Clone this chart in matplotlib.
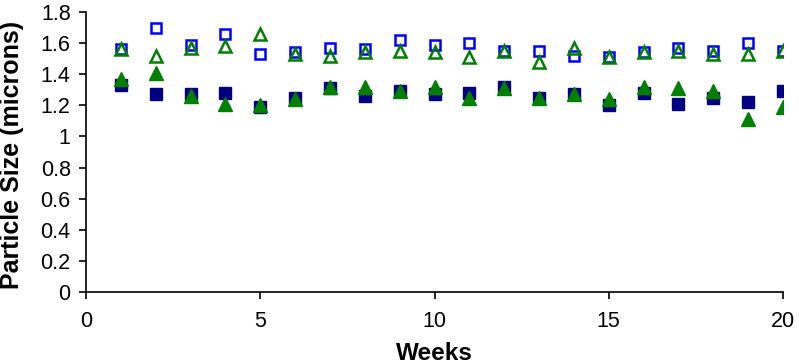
import matplotlib
matplotlib.use("Agg")
import matplotlib.pyplot as plt

plt.rcParams['font.family'] = ['Liberation Sans', 'DejaVu Sans']

weeks = list(range(1, 21))

# open squares
sq_open = [1.56, 1.70, 1.59, 1.66, 1.53, 1.54, 1.57, 1.56, 1.62, 1.59,
           1.60, 1.55, 1.55, 1.52, 1.51, 1.54, 1.57, 1.55, 1.60, 1.55]
# open triangles
tri_open = [1.56, 1.52, 1.57, 1.58, 1.66, 1.53, 1.52, 1.54, 1.55, 1.545,
            1.51, 1.55, 1.48, 1.57, 1.51, 1.54, 1.55, 1.53, 1.53, 1.55]
# filled squares
sq_fill = [1.33, 1.27, 1.27, 1.28, 1.19, 1.25, 1.31, 1.26, 1.29, 1.27,
           1.28, 1.32, 1.25, 1.27, 1.20, 1.28, 1.21, 1.25, 1.22, 1.29]
# filled triangles
tri_fill = [1.37, 1.41, 1.26, 1.21, 1.20, 1.24, 1.32, 1.32, 1.29, 1.32,
            1.25, 1.31, 1.25, 1.27, 1.24, 1.32, 1.31, 1.29, 1.11, 1.19]

fig = plt.figure(figsize=(7.99, 3.64), dpi=100)
# axes: x 86..783 px, y 12..292 px
ax = fig.add_axes([86/799, 72/364, 697/799, 280/364])

ax.plot(weeks, sq_fill, 's', color='#000080', markersize=8, linestyle='none')
ax.plot(weeks, tri_fill, '^', color='#008000', markersize=9.5, linestyle='none')
ax.plot(weeks, sq_open, 's', markerfacecolor='none', markeredgecolor='#0000ff',
        markeredgewidth=1.8, markersize=7.5, linestyle='none')
ax.plot(weeks, tri_open, '^', markerfacecolor='none', markeredgecolor='#008000',
        markeredgewidth=1.8, markersize=9, linestyle='none')

ax.set_xlim(0, 20)
ax.set_ylim(0, 1.8)
ax.set_xticks([0, 5, 10, 15, 20])
ax.set_yticks([0, 0.2, 0.4, 0.6, 0.8, 1, 1.2, 1.4, 1.6, 1.8])
ax.set_yticklabels(['0', '0.2', '0.4', '0.6', '0.8', '1', '1.2', '1.4', '1.6', '1.8'])
ax.tick_params(labelsize=15.5, length=5, width=1.2, direction='out')
ax.tick_params(axis='x', pad=9)
ax.tick_params(axis='y', pad=6)
for s in ['top', 'right']:
    ax.spines[s].set_visible(False)
for s in ['left', 'bottom']:
    ax.spines[s].set_linewidth(1.2)

ax.set_xlabel('Weeks', fontsize=17.5, fontweight='bold')
ax.set_ylabel('Particle Size (microns)', fontsize=18, fontweight='bold')
ax.xaxis.set_label_coords(0.5, -0.178)
ax.yaxis.set_label_coords(-0.089, 0.49)

fig.savefig('out.png', dpi=100)
